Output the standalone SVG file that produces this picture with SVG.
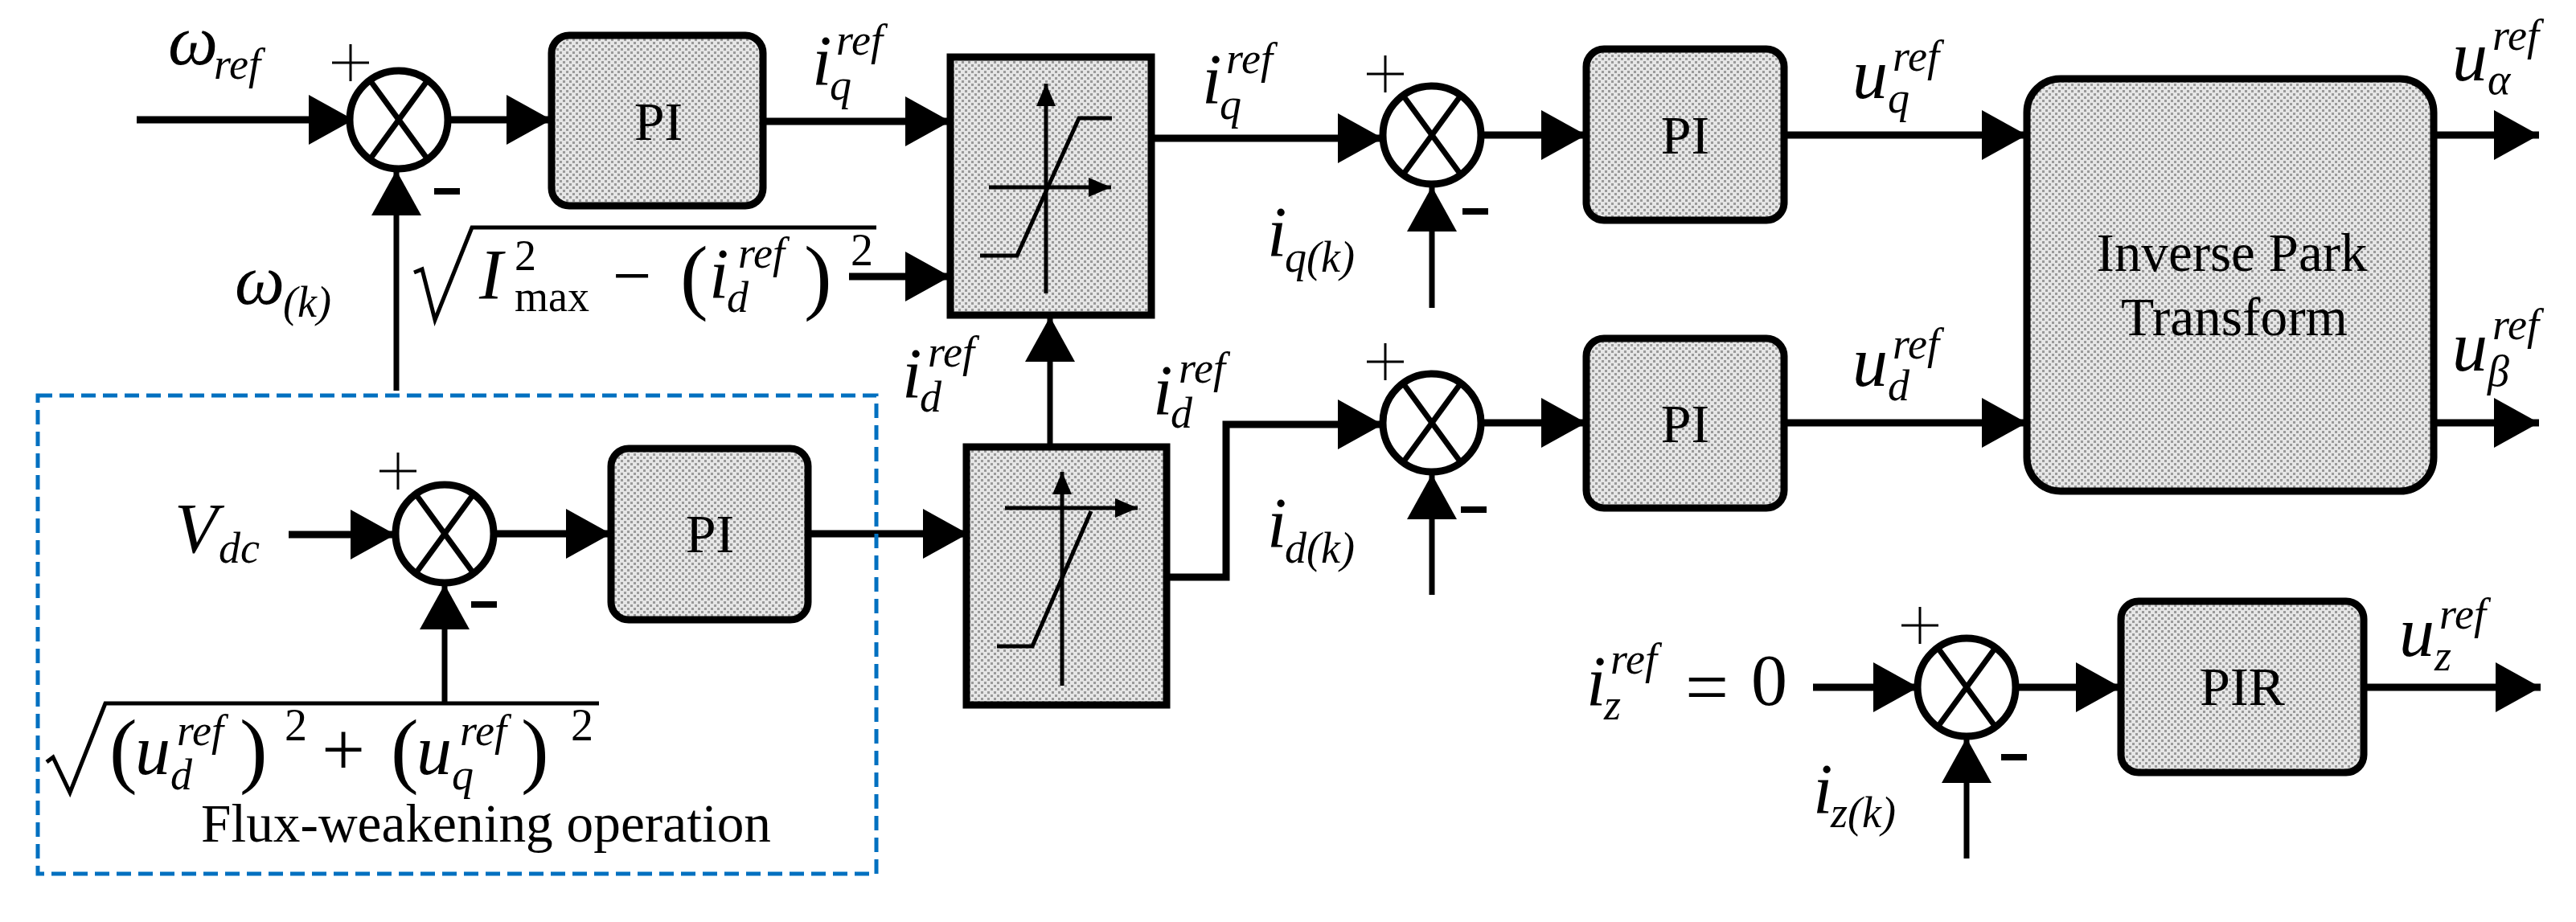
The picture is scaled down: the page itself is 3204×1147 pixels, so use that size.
<svg xmlns="http://www.w3.org/2000/svg" width="3204" height="1147" viewBox="0 0 3204 1147">
<style>
.m{font-family:"Liberation Serif",serif;font-style:italic;font-size:88px;fill:#000}
.s{font-family:"Liberation Serif",serif;font-style:italic;font-size:54px;fill:#000}
.u{font-family:"Liberation Serif",serif;fill:#000}
.t{font-family:"Liberation Serif",serif;font-size:68px;fill:#000}
.blk{fill:url(#dots);stroke:#000;stroke-width:9}
.sum{fill:#fff;stroke:#000;stroke-width:9}
.x{stroke:#000;stroke-width:7}
.w{fill:none;stroke:#000;stroke-width:9}
.f{fill:none;stroke:#000;stroke-width:7}
.th{fill:none;stroke:#000;stroke-width:5}
.pl{stroke:#000;stroke-width:3}
.mi{stroke:#000;stroke-width:8}
</style>
<defs>
<pattern id="dots" width="8" height="8" patternUnits="userSpaceOnUse">
<rect width="8" height="8" fill="#e6e6e6"/>
<rect x="0" y="0" width="3" height="3" fill="#9a9a9a"/>
<rect x="4" y="4" width="3" height="3" fill="#9a9a9a"/>
</pattern>
<marker id="a" markerUnits="userSpaceOnUse" markerWidth="60" markerHeight="64" refX="56" refY="31" orient="auto">
<path d="M0,0 L56,31 L0,62 z" fill="#000"/>
</marker>
<marker id="b" markerUnits="userSpaceOnUse" markerWidth="30" markerHeight="26" refX="28" refY="12" orient="auto">
<path d="M0,0 L28,12 L0,24 z" fill="#000"/>
</marker>
</defs>
<rect width="3204" height="1147" fill="#fff"/>

<g id="connectors">
<path class="w" d="M170,149 H440" marker-end="url(#a)"/>
<path class="w" d="M558,149 H686" marker-end="url(#a)"/>
<path class="w" d="M949,151 H1182" marker-end="url(#a)"/>
<path class="w" d="M1056,344 H1182" marker-end="url(#a)"/>
<path class="w" d="M1432,172 H1720" marker-end="url(#a)"/>
<path class="w" d="M1842,168 H1973" marker-end="url(#a)"/>
<path class="w" d="M2219,168 H2521" marker-end="url(#a)"/>
<path class="w" d="M3027,168 H3158" marker-end="url(#a)"/>
<path class="w" d="M3027,526 H3158" marker-end="url(#a)"/>
<path class="w" d="M1842,526 H1973" marker-end="url(#a)"/>
<path class="w" d="M2219,526 H2521" marker-end="url(#a)"/>
<path class="w" d="M1451,718 H1525 V528 H1720" marker-end="url(#a)"/>
<path class="f" d="M1306,556 V394" marker-end="url(#a)"/>
<path class="f" d="M493,486 V212" marker-end="url(#a)"/>
<path class="f" d="M1781,383 V232" marker-end="url(#a)"/>
<path class="f" d="M1781,740 V590" marker-end="url(#a)"/>
<path class="w" d="M359,665 H492" marker-end="url(#a)"/>
<path class="w" d="M614,664 H760" marker-end="url(#a)"/>
<path class="w" d="M1005,664 H1204" marker-end="url(#a)"/>
<path class="f" d="M553,875 V727" marker-end="url(#a)"/>
<path class="w" d="M2255,855 H2386" marker-end="url(#a)"/>
<path class="w" d="M2507,855 H2638" marker-end="url(#a)"/>
<path class="w" d="M2940,855 H3160" marker-end="url(#a)"/>
<path class="f" d="M2446,1068 V918" marker-end="url(#a)"/>
</g>

<g id="fw-box"><rect x="47" y="492" width="1043" height="595" fill="none" stroke="#0070C0" stroke-width="5" stroke-dasharray="18,9"/>
<text class="u" x="250" y="1047" font-size="68" textLength="709" lengthAdjust="spacingAndGlyphs">Flux-weakening operation</text></g>

<g id="sum1"><circle class="sum" cx="496" cy="149" r="61"/><line class="x" x1="461" y1="101" x2="531" y2="197"/><line class="x" x1="531" y1="101" x2="461" y2="197"/>
<line class="pl" x1="413" y1="78" x2="459" y2="78"/><line class="pl" x1="436" y1="55" x2="436" y2="101"/><line class="mi" x1="540" y1="238" x2="572" y2="238"/></g>
<g id="sum2"><circle class="sum" cx="1781" cy="168" r="61"/><line class="x" x1="1746" y1="120" x2="1816" y2="216"/><line class="x" x1="1816" y1="120" x2="1746" y2="216"/>
<line class="pl" x1="1700" y1="92" x2="1746" y2="92"/><line class="pl" x1="1723" y1="69" x2="1723" y2="115"/><line class="mi" x1="1819" y1="263" x2="1851" y2="263"/></g>
<g id="sum3"><circle class="sum" cx="1781" cy="526" r="61"/><line class="x" x1="1746" y1="478" x2="1816" y2="574"/><line class="x" x1="1816" y1="478" x2="1746" y2="574"/>
<line class="pl" x1="1700" y1="450" x2="1746" y2="450"/><line class="pl" x1="1723" y1="427" x2="1723" y2="473"/><line class="mi" x1="1817" y1="634" x2="1849" y2="634"/></g>
<g id="sum4"><circle class="sum" cx="2446" cy="855" r="61"/><line class="x" x1="2411" y1="807" x2="2481" y2="903"/><line class="x" x1="2481" y1="807" x2="2411" y2="903"/>
<line class="pl" x1="2365" y1="778" x2="2411" y2="778"/><line class="pl" x1="2388" y1="755" x2="2388" y2="801"/><line class="mi" x1="2489" y1="942" x2="2521" y2="942"/></g>
<g id="sum5"><circle class="sum" cx="553" cy="664" r="61"/><line class="x" x1="518" y1="616" x2="588" y2="712"/><line class="x" x1="588" y1="616" x2="518" y2="712"/>
<line class="pl" x1="472" y1="586" x2="518" y2="586"/><line class="pl" x1="495" y1="563" x2="495" y2="609"/><line class="mi" x1="586" y1="752" x2="618" y2="752"/></g>

<g id="pi1"><rect class="blk" x="686" y="44" width="263" height="212" rx="22"/><text class="t" x="819" y="174" text-anchor="middle">PI</text></g>
<g id="pi2"><rect class="blk" x="1973" y="61" width="246" height="213" rx="22"/><text class="t" x="2096" y="191" text-anchor="middle">PI</text></g>
<g id="pi3"><rect class="blk" x="1973" y="421" width="246" height="211" rx="22"/><text class="t" x="2096" y="550" text-anchor="middle">PI</text></g>
<g id="pi4"><rect class="blk" x="760" y="558" width="245" height="213" rx="22"/><text class="t" x="883" y="687" text-anchor="middle">PI</text></g>
<g id="pir"><rect class="blk" x="2638" y="748" width="302" height="213" rx="22"/><text class="t" x="2789" y="877" text-anchor="middle">PIR</text></g>
<g id="ipt"><rect class="blk" x="2521" y="98" width="506" height="513" rx="42"/>
<text class="t" x="2776" y="337" text-anchor="middle" textLength="337" lengthAdjust="spacingAndGlyphs">Inverse Park</text>
<text class="t" x="2779" y="417" text-anchor="middle" textLength="282" lengthAdjust="spacingAndGlyphs">Transform</text></g>

<g id="sat1"><rect class="blk" x="1182" y="71" width="250" height="321"/>
<path class="th" d="M1301,365 V104" marker-end="url(#b)"/><path class="th" d="M1230,233 H1382" marker-end="url(#b)"/>
<path class="th" d="M1219,318 H1265 L1342,147 H1383"/></g>
<g id="sat2"><rect class="blk" x="1202" y="556" width="249" height="321"/>
<path class="th" d="M1321,853 V587" marker-end="url(#b)"/><path class="th" d="M1250,632 H1415" marker-end="url(#b)"/>
<path class="th" d="M1240,804 H1284 L1357,636"/></g>

<g id="labels">
<text class="m" x="209" y="80">ω</text><text class="s" x="266" y="98">ref</text>
<text class="m" x="1010" y="105">i</text><text class="s" x="1032" y="124">q</text><text class="s" x="1040" y="68">ref</text>
<text class="m" x="1495" y="128">i</text><text class="s" x="1517" y="148">q</text><text class="s" x="1525" y="91">ref</text>
<text class="m" x="2304" y="122">u</text><text class="s" x="2348" y="140">q</text><text class="s" x="2354" y="88">ref</text>
<text class="m" x="2304" y="480">u</text><text class="s" x="2348" y="498">d</text><text class="s" x="2354" y="446">ref</text>
<text class="m" x="3050" y="100">u</text><text class="s" x="3094" y="117">α</text><text class="s" x="3100" y="62">ref</text>
<text class="m" x="3050" y="461">u</text><text class="s" x="3094" y="480">β</text><text class="s" x="3100" y="422">ref</text>
<text class="m" x="1122" y="494">i</text><text class="s" x="1144" y="512">d</text><text class="s" x="1154" y="456">ref</text>
<text class="m" x="1434" y="515">i</text><text class="s" x="1456" y="532">d</text><text class="s" x="1466" y="476">ref</text>
<text class="m" x="2984" y="816">u</text><text class="s" x="3028" y="834">z</text><text class="s" x="3034" y="782">ref</text>
<text class="m" x="1973" y="877">i</text><text class="s" x="1995" y="895">z</text><text class="s" x="2003" y="838">ref</text>
<text class="u" x="2096" y="887" font-size="96">=</text><text class="u" x="2178" y="877" font-size="90">0</text>
<text class="m" x="1576" y="318">i</text><text class="s" x="1598" y="338">q(k)</text>
<text class="m" x="1576" y="680">i</text><text class="s" x="1598" y="700">d(k)</text>
<text class="m" x="2255" y="1011">i</text><text class="s" x="2277" y="1029">z(k)</text>
<text class="m" x="292" y="378">ω</text><text class="s" x="352" y="394">(k)</text>
<text class="m" x="217" y="687" font-size="92">V</text><text class="s" x="272" y="700">dc</text>
<path class="th" d="M515,339 L525,335 L541,398 L587,283 H1090"/>
<text class="m" x="596" y="371" font-size="90">I</text><text class="u" x="640" y="336" font-size="54">2</text><text class="u" x="640" y="387" font-size="54">max</text>
<text class="u" x="762" y="372" font-size="86">−</text><text class="u" x="846" y="378" font-size="104">(</text>
<text class="m" x="882" y="370">i</text><text class="s" x="904" y="388">d</text><text class="s" x="918" y="333">ref</text>
<text class="u" x="1000" y="378" font-size="104">)</text><text class="u" x="1058" y="330" font-size="56">2</text>
<path class="th" d="M58,948 L66,942 L87,986 L131,875 H745"/>
<text class="u" x="136" y="967" font-size="104">(</text><text class="m" x="168" y="963">u</text><text class="s" x="212" y="982">d</text><text class="s" x="220" y="927">ref</text>
<text class="u" x="298" y="967" font-size="104">)</text><text class="u" x="354" y="921" font-size="56">2</text>
<text class="u" x="400" y="964" font-size="96">+</text>
<text class="u" x="486" y="967" font-size="104">(</text><text class="m" x="518" y="963">u</text><text class="s" x="562" y="982">q</text><text class="s" x="572" y="927">ref</text>
<text class="u" x="648" y="967" font-size="104">)</text><text class="u" x="710" y="921" font-size="56">2</text>
</g>
</svg>
